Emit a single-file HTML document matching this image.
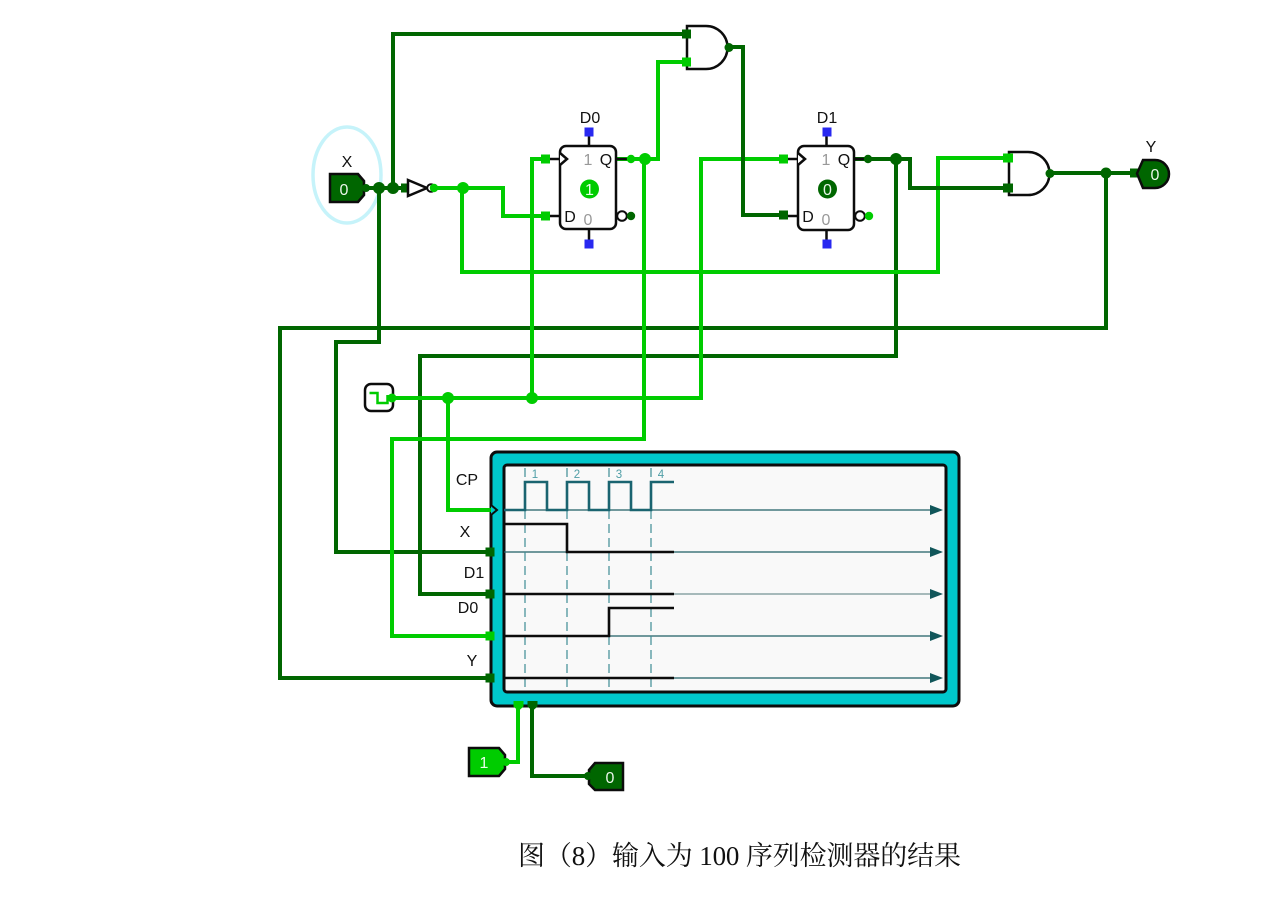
<!DOCTYPE html>
<html><head><meta charset="utf-8"><style>
html,body{margin:0;padding:0;background:#fff}
svg{display:block;filter:blur(0.35px)}
text{font-family:"Liberation Sans",sans-serif}
</style></head><body>
<svg width="1276" height="901" viewBox="0 0 1276 901" xmlns="http://www.w3.org/2000/svg">
<rect width="1276" height="901" fill="#fff"/>
<ellipse cx="347" cy="175" rx="34" ry="48" fill="none" stroke="#c6f3fa" stroke-width="3.500"/>

<!-- scope -->
<rect x="491" y="452" width="468" height="254" rx="6" fill="#00c8cc" stroke="#0c0c0c" stroke-width="3"/>
<rect x="504" y="465" width="442" height="227" rx="3" fill="#f9f9f9" stroke="#0c0c0c" stroke-width="3"/>
<g stroke="#1f5f66" stroke-width="1.300">
<path d="M504 510H935M504 552H935M504 636H935M504 678H935" fill="none"/>
<path d="M674 594H935" fill="none" stroke="#8aa4a6" stroke-width="1.600"/>
</g>
<g fill="#11565a">
<path d="M930 505L943 510L930 515Z"/><path d="M930 547L943 552L930 557Z"/><path d="M930 589L943 594L930 599Z"/><path d="M930 631L943 636L930 641Z"/><path d="M930 673L943 678L930 683Z"/>
</g>
<path d="M525 468V689M567 468V689M609 468V689M651 468V689" stroke="#3d8c95" stroke-width="1.200" stroke-dasharray="9 5" fill="none"/>
<g font-size="11.500" fill="#4f9ea6" text-anchor="middle"><text x="535" y="478">1</text><text x="577" y="478">2</text><text x="619" y="478">3</text><text x="661" y="478">4</text></g>
<path d="M504 510H525V482H547V510H567V482H589V510H609V482H631V510H651V482H674" fill="none" stroke="#1a6470" stroke-width="2.600"/>
<g fill="none" stroke="#0c0c0c" stroke-width="2.600">
<path d="M504 524H567V552H674"/><path d="M504 594H674"/><path d="M504 636H609V608H674"/><path d="M504 678H674"/>
</g>
<path d="M491 505L497 510L491 515" fill="#00c8cc" stroke="#0c0c0c" stroke-width="2"/>

<!-- dark wires -->
<g fill="none" stroke="#006600" stroke-width="4">
<path d="M365 188H407"/>
<path d="M393 188V34H686"/>
<path d="M379 188V342H336V552H490"/>
<path d="M729 47H743V215H784"/>
<path d="M854 159H910V188H1010"/>
<path d="M896 159V356H420V594H490"/>
<path d="M1050 173H1135"/>
<path d="M1106 173V328H280V678H490"/>
<path d="M532 705V776H590"/>
</g>
<!-- light wires -->
<g fill="none" stroke="#00cc00" stroke-width="4">
<path d="M434 188H503V216H545"/>
<path d="M462 188V272H938V158H1010"/>
<path d="M392 398H701V159H784"/>
<path d="M448 398V510H491"/>
<path d="M532 398V159H546"/>
<path d="M616 159H658V62H686"/>
<path d="M644 159V439H392V636H490"/>
<path d="M506 762H518V705"/>
</g>
<!-- redraw dark crossing over -->
<path d="M743 100V215" stroke="#006600" stroke-width="4" fill="none"/>
<path d="M1010 188H910" stroke="#006600" stroke-width="4" fill="none"/>

<!-- dots -->
<g fill="#006600">
<circle cx="379" cy="188" r="6"/><circle cx="393" cy="188" r="6"/><rect x="401" y="183.500" width="9" height="9"/>
<circle cx="896" cy="159" r="6"/><circle cx="1106" cy="173" r="5.500"/>
<rect x="1003" y="183.500" width="9" height="9"/><rect x="1130" y="168.500" width="8" height="9"/>
<rect x="485.500" y="547.500" width="9" height="9"/><rect x="485.500" y="589.500" width="9" height="9"/><rect x="485.500" y="673.500" width="9" height="9"/>
<path d="M527.500 701H537.500V706.500L532.500 711L527.500 706.500Z"/>
</g>
<g fill="#00cc00">
<circle cx="463" cy="188" r="6"/><circle cx="645" cy="159" r="6"/>
<circle cx="448" cy="398" r="6"/><circle cx="532" cy="398" r="6"/>
<rect x="541" y="154.500" width="9" height="9"/><rect x="541" y="211.500" width="9" height="9"/>
<rect x="779" y="154.500" width="9" height="9"/>
<rect x="1003" y="153.500" width="9" height="9"/><rect x="485.500" y="631.500" width="9" height="9"/>
<path d="M513.500 701H523.500V706.500L518.500 711L513.500 706.500Z"/>
</g>
<rect x="779" y="210.500" width="9" height="9" fill="#006600"/>

<!-- inputs / outputs -->
<path d="M330 174H358L364 181V195L358 202H330Z" fill="#006600" stroke="#0c0c0c" stroke-width="2.500"/>
<text x="344" y="195" font-size="16" fill="#e8f5e8" text-anchor="middle">0</text>
<circle cx="366" cy="188" r="4" fill="#006600"/>
<text x="347" y="167" font-size="16" fill="#111" text-anchor="middle">X</text>
<path d="M469 748H499L505 755V769L499 776H469Z" fill="#00cc00" stroke="#0c0c0c" stroke-width="2.500"/>
<text x="484" y="768" font-size="16" fill="#e8ffe8" text-anchor="middle">1</text>
<circle cx="506" cy="762" r="4" fill="#00cc00"/>
<path d="M623 763H595L589 770V784L595 790H623Z" fill="#006600" stroke="#0c0c0c" stroke-width="2.500"/>
<text x="610" y="783" font-size="16" fill="#e8f5e8" text-anchor="middle">0</text>
<circle cx="588" cy="776" r="4" fill="#006600"/>
<path d="M1137 173.500L1143 160H1155A14 14 0 0 1 1155 188H1143Z" fill="#006600" stroke="#0c0c0c" stroke-width="2.500"/>
<text x="1155" y="180" font-size="16" fill="#e8f5e8" text-anchor="middle">0</text>
<text x="1151" y="152" font-size="16" fill="#111" text-anchor="middle">Y</text>

<!-- clock -->
<rect x="365" y="384" width="28" height="27" rx="6" fill="#fff" stroke="#0c0c0c" stroke-width="2.500"/>
<path d="M369.500 393H377.500V403H387.500V395" fill="none" stroke="#00cc00" stroke-width="2.500"/>
<circle cx="392" cy="398" r="4.500" fill="#00cc00"/>

<!-- inverter -->
<path d="M408 180L427 188L408 196Z" fill="#fff" stroke="#0c0c0c" stroke-width="2.500"/>
<circle cx="431" cy="188" r="3.800" fill="#fff" stroke="#0c0c0c" stroke-width="2"/>
<circle cx="434" cy="188" r="4.200" fill="#00cc00"/>

<!-- AND gates -->
<path d="M687 26H706A21.500 21.500 0 0 1 706 69H687Z" fill="#fff" stroke="#0c0c0c" stroke-width="2.500"/>
<rect x="682" y="29.500" width="9" height="9" fill="#006600"/><rect x="682" y="57.500" width="9" height="9" fill="#00cc00"/>
<circle cx="729" cy="47.500" r="4.500" fill="#006600"/>
<path d="M1009 152H1028A21.500 21.500 0 0 1 1028 195H1009Z" fill="#fff" stroke="#0c0c0c" stroke-width="2.500"/>
<rect x="1004" y="153.500" width="9" height="9" fill="#00cc00"/><rect x="1004" y="183.500" width="9" height="9" fill="#006600"/>
<circle cx="1050" cy="173.500" r="4.500" fill="#006600"/>

<!-- FF D0 -->
<g stroke="#0c0c0c" stroke-width="2.500" fill="none">
<path d="M550 159H560M550 216H560M616 159H627M589 136V146M589 229V240"/>
</g>
<rect x="560" y="146" width="56" height="83" rx="6" fill="#fff" stroke="#0c0c0c" stroke-width="2.500"/>
<path d="M560 153L567 159L560 165" fill="#fff" stroke="#0c0c0c" stroke-width="2.500"/>
<circle cx="622" cy="216" r="4.800" fill="#fff" stroke="#0c0c0c" stroke-width="2"/>
<circle cx="631" cy="216" r="4.200" fill="#006600"/>
<circle cx="631" cy="159" r="4.200" fill="#00cc00"/>
<rect x="584.500" y="127.500" width="9" height="9" fill="#2828f0"/><rect x="584.500" y="239.500" width="9" height="9" fill="#2828f0"/>
<circle cx="589.500" cy="189" r="9.500" fill="#00cc00"/>
<text x="589.500" y="195" font-size="16" fill="#e8ffe8" text-anchor="middle">1</text>
<text x="588" y="165" font-size="16" fill="#999" text-anchor="middle">1</text>
<text x="588" y="225" font-size="16" fill="#999" text-anchor="middle">0</text>
<text x="606" y="165" font-size="16" fill="#111" text-anchor="middle">Q</text>
<text x="570" y="222" font-size="16" fill="#111" text-anchor="middle">D</text>
<text x="590" y="123" font-size="16" fill="#111" text-anchor="middle">D0</text>

<!-- FF D1 -->
<g stroke="#0c0c0c" stroke-width="2.500" fill="none">
<path d="M788 159H798M788 216H798M854 159H865M826.500 136V146M826.500 230V240"/>
</g>
<rect x="798" y="146" width="56" height="84" rx="6" fill="#fff" stroke="#0c0c0c" stroke-width="2.500"/>
<path d="M798 153L805 159L798 165" fill="#fff" stroke="#0c0c0c" stroke-width="2.500"/>
<circle cx="860" cy="216" r="4.800" fill="#fff" stroke="#0c0c0c" stroke-width="2"/>
<circle cx="869" cy="216" r="4.200" fill="#00cc00"/>
<circle cx="868" cy="159" r="4.200" fill="#006600"/>
<rect x="822.500" y="127.500" width="9" height="9" fill="#2828f0"/><rect x="822.500" y="239.500" width="9" height="9" fill="#2828f0"/>
<circle cx="827.500" cy="189" r="9.500" fill="#006600"/>
<text x="827.500" y="195" font-size="16" fill="#e8f5e8" text-anchor="middle">0</text>
<text x="826" y="165" font-size="16" fill="#999" text-anchor="middle">1</text>
<text x="826" y="225" font-size="16" fill="#999" text-anchor="middle">0</text>
<text x="844" y="165" font-size="16" fill="#111" text-anchor="middle">Q</text>
<text x="808" y="222" font-size="16" fill="#111" text-anchor="middle">D</text>
<text x="827" y="123" font-size="16" fill="#111" text-anchor="middle">D1</text>

<!-- scope labels -->
<g font-size="16" fill="#111" text-anchor="middle">
<text x="467" y="485">CP</text><text x="465" y="537">X</text><text x="474" y="578">D1</text><text x="468" y="613">D0</text><text x="472" y="666">Y</text>
</g>

<text x="518" y="865" font-size="27" fill="#111" style="font-family:'Liberation Serif','Noto Serif CJK SC',serif" textLength="443" lengthAdjust="spacing">图（8）输入为 100 序列检测器的结果</text>
</svg>
</body></html>
